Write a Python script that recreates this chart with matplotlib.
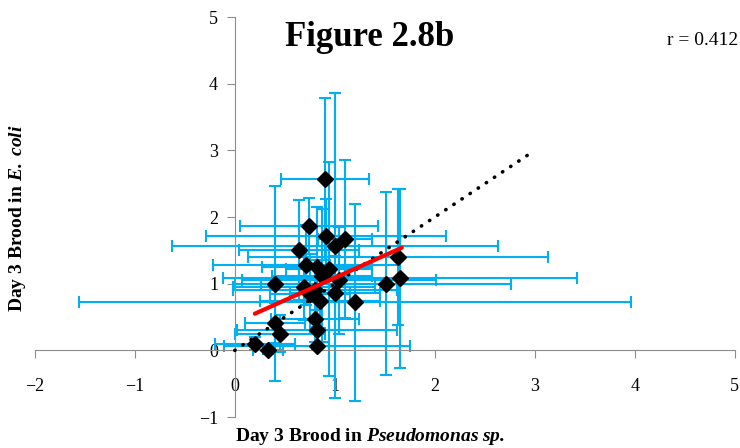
import numpy as np
import matplotlib.pyplot as plt

# Brood counts (Pseudomonas sp. on x, E. coli on y) with SDs
x_vals = [0.90, 0.74, 0.91, 1.10, 1.00, 0.64, 1.63, 0.71, 0.82, 0.94,
          0.87, 1.65, 1.04, 0.40, 1.51, 0.69, 0.80, 0.75, 1.00, 0.85,
          1.20, 0.40, 0.80, 0.45, 0.82, 0.20, 0.33, 0.82]
y_vals = [2.57, 1.87, 1.72, 1.67, 1.57, 1.51, 1.40, 1.28, 1.25, 1.22,
          1.12, 1.08, 1.05, 1.00, 1.00, 0.95, 0.90, 0.85, 0.86, 0.74,
          0.72, 0.41, 0.47, 0.25, 0.30, 0.10, 0.00, 0.07]
x_err = [0.44, 0.69, 1.20, 0.27, 1.63, 0.60, 1.50, 0.93, 0.55, 0.43,
         0.50, 1.77, 0.97, 0.40, 1.25, 0.71, 0.82, 0.40, 0.45, 0.60,
         2.76, 0.30, 0.44, 0.45, 0.80, 0.40, 0.15, 0.93]
y_err = [1.22, 0.42, 0.55, 1.19, 2.29, 0.75, 1.02, 0.60, 0.90, 1.60,
         1.00, 1.34, 0.80, 1.46, 1.37, 0.50, 0.45, 0.60, 0.55, 0.40,
         1.48, 0.30, 0.35, 0.28, 0.30, 0.10, 0.05, 0.05]

# linear trend and 1:1 reference line
trend_x = [0.20, 1.67]
trend_y = [0.55, 1.54]
ident_x = [0.0, 2.95]
ident_y = [0.0, 2.95]

x_ticks = [-2, -1, 0, 1, 2, 3, 4, 5]
y_ticks = [-1, 0, 1, 2, 3, 4, 5]

plt.rcParams['font.family'] = ['Liberation Serif', 'DejaVu Serif']
plt.rcParams['mathtext.fontset'] = 'custom'
plt.rcParams['mathtext.rm'] = 'Liberation Serif'
plt.rcParams['mathtext.it'] = 'Liberation Serif:italic'
plt.rcParams['mathtext.bf'] = 'Liberation Serif:bold'
plt.rcParams['mathtext.bfit'] = 'Liberation Serif:italic:bold'

fig = plt.figure(figsize=(7.4, 4.48), dpi=100)
ax = fig.add_axes([0.047, 0.069, 0.946, 0.893])

ax.errorbar(x_vals, y_vals, xerr=x_err, yerr=y_err, fmt='none',
            ecolor='#00B0F0', elinewidth=1.5, capsize=4, capthick=1.5,
            zorder=2)
ax.plot(x_vals, y_vals, 'D', color='black', markersize=8.5, zorder=3)
ax.plot(ident_x, ident_y, color='black', lw=2.6,
        linestyle=(0, (0.1, 2.6)), dash_capstyle='round', zorder=4)
ax.plot(trend_x, trend_y, color='#FF0000', lw=3, solid_capstyle='round',
        zorder=5)

ax.set_xlim(-2, 5)
ax.set_ylim(-1, 5)
ax.set_xticks(x_ticks)
ax.set_yticks(y_ticks)

for side in ['top', 'right']:
    ax.spines[side].set_visible(False)
ax.spines['left'].set_position(('data', 0))
ax.spines['bottom'].set_position(('data', 0))
ax.spines['left'].set_color('#8c8c8c')
ax.spines['bottom'].set_color('#8c8c8c')

ax.tick_params(axis='x', direction='out', length=6, color='#8c8c8c',
               labelsize=13, pad=14)
ax.tick_params(axis='y', direction='out', length=6, color='#8c8c8c',
               labelsize=13, pad=6)

fig.text(0.5, 0.917, 'Figure 2.8b', ha='center', va='center',
         fontsize=25, fontweight='bold')
fig.text(0.997, 0.91, 'r = 0.412', ha='right', va='center', fontsize=14)

fig.text(0.5, 0.025, r'Day 3 Brood in $\mathbfit{Pseudomonas\ sp.}$',
         ha='center', va='center', fontsize=14, fontweight='bold')
fig.text(0.024, 0.513, r'Day 3 Brood in $\mathbfit{E.\ coli}$',
         ha='center', va='center', rotation=90, fontsize=14,
         fontweight='bold')

fig.savefig('out.png', dpi=100)
